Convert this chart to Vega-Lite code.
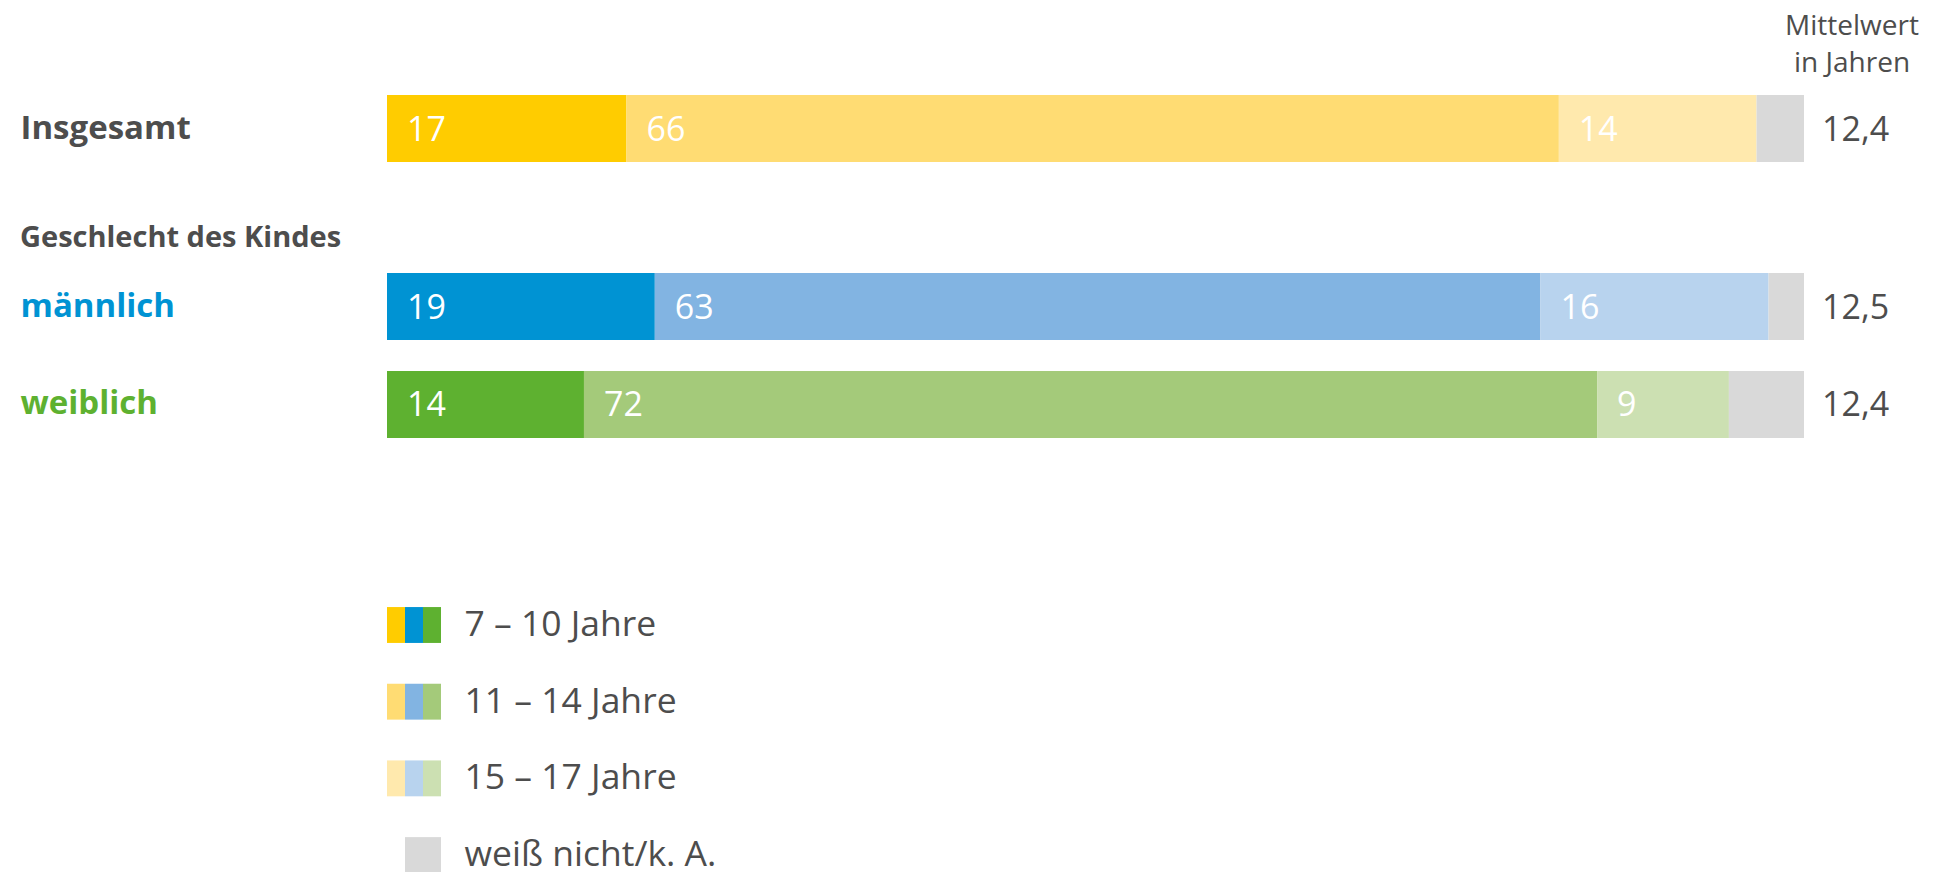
{
  "$schema": "https://vega.github.io/schema/vega-lite/v6.json",
  "padding": {"left": 20, "top": 13, "right": 0, "bottom": 0},
  "background": "white",
  "spacing": 62,
  "config": {
    "view": {"stroke": null},
    "font": "Open Sans",
    "text": {"font": "Open Sans"},
    "locale": {"number": {"decimal": ",", "thousands": ".", "grouping": [3], "currency": ["", " €"]}}
  },
  "datasets": {
    "bars": [
      {"group": "Insgesamt", "age": "7 – 10 Jahre", "idx": 1, "value": 16.9, "key": "Insgesamt/1"},
      {"group": "Insgesamt", "age": "11 – 14 Jahre", "idx": 2, "value": 65.8, "key": "Insgesamt/2"},
      {"group": "Insgesamt", "age": "15 – 17 Jahre", "idx": 3, "value": 13.95, "key": "Insgesamt/3"},
      {"group": "Insgesamt", "age": "weiß nicht/k. A.", "idx": 4, "value": 3.35, "key": "Insgesamt/4"},
      {"group": "männlich", "age": "7 – 10 Jahre", "idx": 1, "value": 18.9, "key": "männlich/1"},
      {"group": "männlich", "age": "11 – 14 Jahre", "idx": 2, "value": 62.5, "key": "männlich/2"},
      {"group": "männlich", "age": "15 – 17 Jahre", "idx": 3, "value": 16.1, "key": "männlich/3"},
      {"group": "männlich", "age": "weiß nicht/k. A.", "idx": 4, "value": 2.5, "key": "männlich/4"},
      {"group": "weiblich", "age": "7 – 10 Jahre", "idx": 1, "value": 13.9, "key": "weiblich/1"},
      {"group": "weiblich", "age": "11 – 14 Jahre", "idx": 2, "value": 71.5, "key": "weiblich/2"},
      {"group": "weiblich", "age": "15 – 17 Jahre", "idx": 3, "value": 9.3, "key": "weiblich/3"},
      {"group": "weiblich", "age": "weiß nicht/k. A.", "idx": 4, "value": 5.3, "key": "weiblich/4"}
    ],
    "means": [
      {"group": "Insgesamt", "mean": 12.4},
      {"group": "männlich", "mean": 12.5},
      {"group": "weiblich", "mean": 12.4}
    ],
    "legend": [
      {"group": "Insgesamt", "age": "7 – 10 Jahre", "key": "Insgesamt/1"},
      {"group": "männlich", "age": "7 – 10 Jahre", "key": "männlich/1"},
      {"group": "weiblich", "age": "7 – 10 Jahre", "key": "weiblich/1"},
      {"group": "Insgesamt", "age": "11 – 14 Jahre", "key": "Insgesamt/2"},
      {"group": "männlich", "age": "11 – 14 Jahre", "key": "männlich/2"},
      {"group": "weiblich", "age": "11 – 14 Jahre", "key": "weiblich/2"},
      {"group": "Insgesamt", "age": "15 – 17 Jahre", "key": "Insgesamt/3"},
      {"group": "männlich", "age": "15 – 17 Jahre", "key": "männlich/3"},
      {"group": "weiblich", "age": "15 – 17 Jahre", "key": "weiblich/3"},
      {"group": "männlich", "age": "weiß nicht/k. A.", "key": "männlich/4"},
      {"group": "weiblich", "age": "weiß nicht/k. A.", "key": "weiblich/4"}
    ]
  },
  "vconcat": [
    {
      "width": 1417,
      "height": 67,
      "title": {"text": ["Mittelwert", "in Jahren"], "anchor": "end", "align": "center", "dx": 48, "frame": "group", "fontSize": 28, "fontWeight": "normal", "color": "#4d4d4d", "lineHeight": 37, "offset": 17, "font": "Open Sans"},
      "encoding": {
        "y": {"field": "group", "type": "nominal", "scale": {"paddingInner": 0, "paddingOuter": 0},
          "axis": {"title": null, "domain": false, "ticks": false, "tickSize": 0, "labelAlign": "left", "labelBaseline": "middle", "labelPadding": 367, "labelFontSize": 33, "labelFontWeight": "bold", "labelColor": "#4d4d4d", "labelFont": "Open Sans", "labelLimit": 500}}
      },
      "layer": [
        {
          "data": {"name": "bars"},
          "transform": [
            {"filter": "datum.group == 'Insgesamt'"},
            {"stack": "value", "groupby": ["group"], "sort": [{"field": "idx", "order": "ascending"}], "as": ["v0", "v1"]}
          ],
          "mark": {"type": "bar"},
          "encoding": {
            "x": {"field": "v0", "type": "quantitative", "scale": {"domain": [0, 100], "nice": false, "zero": true}, "axis": null},
            "x2": {"field": "v1"},
            "color": {"field": "key", "type": "nominal", "legend": null,
              "scale": {"domain": ["Insgesamt/1", "Insgesamt/2", "Insgesamt/3", "Insgesamt/4", "männlich/1", "männlich/2", "männlich/3", "männlich/4", "weiblich/1", "weiblich/2", "weiblich/3", "weiblich/4"],
                "range": ["#FFCC00", "#FFDC73", "#FFE9AD", "#D9D9D9", "#0093D3", "#82B4E2", "#B8D3EE", "#D9D9D9", "#5EB130", "#A4CA7A", "#CCE0B2", "#D9D9D9"]}}
          }
        },
        {
          "data": {"name": "bars"},
          "transform": [
            {"filter": "datum.group == 'Insgesamt'"},
            {"stack": "value", "groupby": ["group"], "sort": [{"field": "idx", "order": "ascending"}], "as": ["v0", "v1"]},
            {"filter": "datum.idx < 4"}
          ],
          "mark": {"type": "text", "align": "left", "baseline": "middle", "dx": 20, "dy": 2, "fontSize": 34, "color": "white"},
          "encoding": {
            "x": {"field": "v0", "type": "quantitative"},
            "text": {"field": "value", "type": "quantitative", "format": ".0f"}
          }
        },
        {
          "data": {"name": "means"},
          "transform": [{"filter": "datum.group == 'Insgesamt'"}],
          "mark": {"type": "text", "align": "left", "baseline": "middle", "dx": 18, "dy": 2, "fontSize": 34, "color": "#4d4d4d"},
          "encoding": {
            "x": {"datum": 100},
            "text": {"field": "mean", "type": "quantitative", "format": ".1f"}
          }
        }
      ]
    },
    {
      "width": 1417,
      "height": 165,
      "title": {"text": "Geschlecht des Kindes", "anchor": "start", "frame": "bounds", "fontSize": 29, "fontWeight": "bold", "color": "#4d4d4d", "offset": 20, "font": "Open Sans"},
      "encoding": {
        "y": {"field": "group", "type": "nominal", "scale": {"domain": ["männlich", "weiblich"], "paddingInner": 0.316, "paddingOuter": 0},
          "axis": {"title": null, "domain": false, "ticks": false, "tickSize": 0, "labelAlign": "left", "labelBaseline": "middle", "labelPadding": 367, "labelFontSize": 33, "labelFontWeight": "bold", "labelFont": "Open Sans", "labelLimit": 500,
            "labelColor": {"condition": {"test": "datum.value == 'männlich'", "value": "#0093D3"}, "value": "#5EB130"}}}
      },
      "layer": [
        {
          "data": {"name": "bars"},
          "transform": [
            {"filter": "datum.group != 'Insgesamt'"},
            {"stack": "value", "groupby": ["group"], "sort": [{"field": "idx", "order": "ascending"}], "as": ["v0", "v1"]}
          ],
          "mark": {"type": "bar"},
          "encoding": {
            "x": {"field": "v0", "type": "quantitative", "scale": {"domain": [0, 100], "nice": false, "zero": true}, "axis": null},
            "x2": {"field": "v1"},
            "color": {"field": "key", "type": "nominal", "legend": null,
              "scale": {"domain": ["Insgesamt/1", "Insgesamt/2", "Insgesamt/3", "Insgesamt/4", "männlich/1", "männlich/2", "männlich/3", "männlich/4", "weiblich/1", "weiblich/2", "weiblich/3", "weiblich/4"],
                "range": ["#FFCC00", "#FFDC73", "#FFE9AD", "#D9D9D9", "#0093D3", "#82B4E2", "#B8D3EE", "#D9D9D9", "#5EB130", "#A4CA7A", "#CCE0B2", "#D9D9D9"]}}
          }
        },
        {
          "data": {"name": "bars"},
          "transform": [
            {"filter": "datum.group != 'Insgesamt'"},
            {"stack": "value", "groupby": ["group"], "sort": [{"field": "idx", "order": "ascending"}], "as": ["v0", "v1"]},
            {"filter": "datum.idx < 4"}
          ],
          "mark": {"type": "text", "align": "left", "baseline": "middle", "dx": 20, "dy": 2, "fontSize": 34, "color": "white"},
          "encoding": {
            "x": {"field": "v0", "type": "quantitative"},
            "text": {"field": "value", "type": "quantitative", "format": ".0f"}
          }
        },
        {
          "data": {"name": "means"},
          "transform": [{"filter": "datum.group != 'Insgesamt'"}],
          "mark": {"type": "text", "align": "left", "baseline": "middle", "dx": 18, "dy": 2, "fontSize": 34, "color": "#4d4d4d"},
          "encoding": {
            "x": {"datum": 100},
            "text": {"field": "mean", "type": "quantitative", "format": ".1f"}
          }
        }
      ]
    },
    {
      "width": 54,
      "height": 373,
      "data": {"name": "legend"},
      "mark": {"type": "rect"},
      "encoding": {
        "x": {"field": "group", "type": "nominal", "scale": {"domain": ["Insgesamt", "männlich", "weiblich"], "paddingInner": 0, "paddingOuter": 0}, "axis": null},
        "y": {"field": "age", "type": "nominal",
          "scale": {"domain": ["7 – 10 Jahre", "11 – 14 Jahre", "15 – 17 Jahre", "weiß nicht/k. A."], "paddingInner": 0.532, "paddingOuter": 0.698, "align": 1},
          "axis": {"orient": "right", "title": null, "domain": false, "ticks": false, "tickSize": 0, "labelPadding": 23, "labelAlign": "left", "labelBaseline": "middle", "labelFontSize": 35.5, "labelColor": "#4d4d4d", "labelFont": "Open Sans", "labelLimit": 500}},
        "color": {"field": "key", "type": "nominal", "legend": null,
          "scale": {"domain": ["Insgesamt/1", "Insgesamt/2", "Insgesamt/3", "Insgesamt/4", "männlich/1", "männlich/2", "männlich/3", "männlich/4", "weiblich/1", "weiblich/2", "weiblich/3", "weiblich/4"],
            "range": ["#FFCC00", "#FFDC73", "#FFE9AD", "#D9D9D9", "#0093D3", "#82B4E2", "#B8D3EE", "#D9D9D9", "#5EB130", "#A4CA7A", "#CCE0B2", "#D9D9D9"]}}
      }
    }
  ]
}
